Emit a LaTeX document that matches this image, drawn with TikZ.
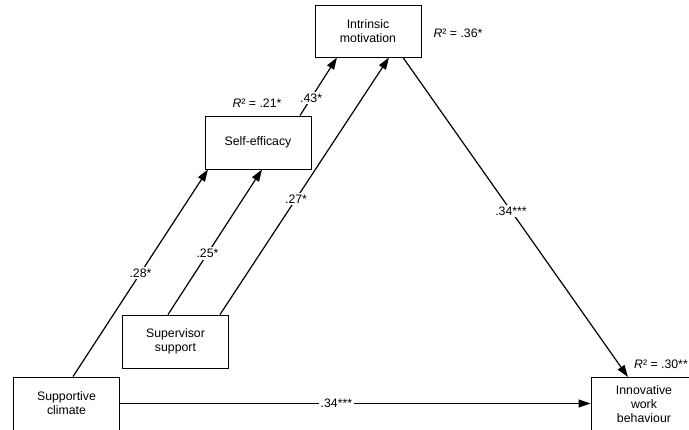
\documentclass[tikz,border=0pt]{standalone}
\usepackage{fontspec}
\setmainfont{Liberation Sans}
\usetikzlibrary{arrows.meta,calc}
\begin{document}
\begin{tikzpicture}[x=1pt,y=-1pt,
  box/.style={draw,line width=0.9pt,minimum width=106pt,minimum height=53pt,align=center,inner sep=0pt,font=\fontsize{12.3}{14}\selectfont},
  arr/.style={line width=1.2pt,-{Triangle[length=12pt,width=8pt]}},
  lab/.style={fill=white,inner sep=2pt,font=\fontsize{12.3}{14}\selectfont},
  txt/.style={inner sep=0pt,font=\fontsize{12.3}{14}\selectfont}]
\useasboundingbox (0,0) rectangle (689,429);
\clip (0,0) rectangle (689,429);
\node[box,minimum height=52pt] (IM) at (368,31) {Intrinsic\\motivation};
\node[box] (SE) at (258,142.5) {Self-efficacy};
\node[box] (SS) at (175.5,341.5) {Supervisor\\support};
\node[box] (SC) at (66.5,403.5) {Supportive\\climate};
\node[box] (IWB) at (644,404) {Innovative\\work\\behaviour};
\node[txt] (r1) at (458,33) {\textit{R}² = .36*};
\node[txt] (r2) at (257,103) {\textit{R}² = .21*};
\node[txt,anchor=east] (r3) at (688,364) {\textit{R}² = .30**};
\draw[arr] ([xshift=6.5pt]SC.north) -- node[lab,pos=0.5]{.28*} ([xshift=-50pt]SE.south);
\draw[arr] ([xshift=-7.5pt]SS.north) -- node[lab,pos=0.42]{.25*} ([xshift=4pt]SE.south);
\draw[arr] ([xshift=44.5pt]SS.north) -- node[lab,pos=0.45]{.27*} ([xshift=21pt]IM.south);
\draw[arr] ([xshift=42pt]SE.north) -- node[lab,pos=0.3]{.43*} ([xshift=-31pt]IM.south);
\draw[arr] ([xshift=35pt]IM.south) -- node[lab,pos=0.48]{.34***} ([xshift=-16pt]IWB.north);
\draw[arr] (SC.east) -- node[lab,pos=0.46]{.34***} (SC.east -| IWB.west);
\end{tikzpicture}
\end{document}
